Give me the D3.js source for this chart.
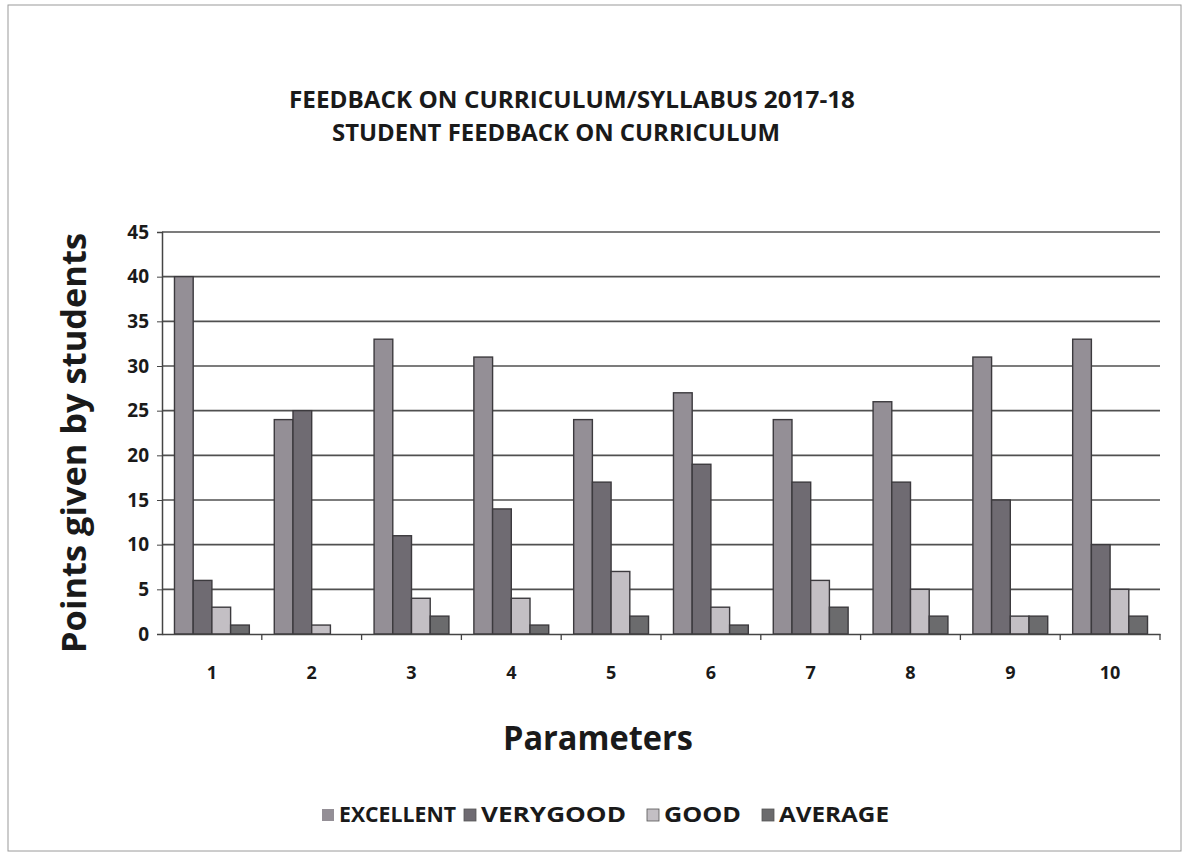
<!DOCTYPE html>
<html>
<head>
<meta charset="utf-8">
<script src="https://cdn.jsdelivr.net/npm/d3@7"></script>
<style>
  body { margin: 0; background: #fff; }
  text { font-family: 'Open Sans', 'Liberation Sans', sans-serif; fill: #1a1a1a; }
</style>
</head>
<body>
<div id="app"></div>
<script>
const width = 1185;
const height = 855;

const parameters = ['1', '2', '3', '4', '5', '6', '7', '8', '9', '10'];
const seriesNames = ['EXCELLENT', 'VERYGOOD', 'GOOD', 'AVERAGE'];
const excellent = [40, 24, 33, 31, 24, 27, 24, 26, 31, 33];
const veryGood = [6, 25, 11, 14, 17, 19, 17, 17, 15, 10];
const good = [3, 1, 4, 4, 7, 3, 6, 5, 2, 5];
const average = [1, 0, 2, 1, 2, 1, 3, 2, 2, 2];
const yTicks = [0, 5, 10, 15, 20, 25, 30, 35, 40, 45];
const colors = ['#948f96', '#6f6b72', '#c3bfc4', '#6b6b6d'];

const series = [excellent, veryGood, good, average];

const margin = {left: 162, right: 25, top: 232, bottom: 221};

const svg = d3.select('#app').append('svg')
  .attr('width', width)
  .attr('height', height);

// scan frame
svg.append('rect')
  .attr('x', 8).attr('y', 5)
  .attr('width', width - 12).attr('height', height - 9)
  .attr('fill', 'none')
  .attr('stroke', '#9a9a9a')
  .attr('stroke-width', 1);

const x = d3.scaleBand()
  .domain(parameters)
  .range([margin.left, width - margin.right])
  .paddingInner(0.25)
  .paddingOuter(0.125);

const xOuter = d3.scaleBand()
  .domain(parameters)
  .range([margin.left, width - margin.right]);

const xSub = d3.scaleBand()
  .domain(seriesNames)
  .range([0, x.bandwidth()]);

const y = d3.scaleLinear()
  .domain([0, 45])
  .range([height - margin.bottom, margin.top]);

// gridlines
svg.append('g')
  .selectAll('line')
  .data(yTicks.slice(1))
  .join('line')
  .attr('x1', margin.left)
  .attr('x2', width - margin.right)
  .attr('y1', (d)=>y(d))
  .attr('y2', (d)=>y(d))
  .attr('stroke', '#505050')
  .attr('stroke-width', 1.6);

// y axis
const yAxis = svg.append('g')
  .attr('transform', `translate(${margin.left},0)`)
  .call(d3.axisLeft(y).tickValues(yTicks).tickSize(5).tickPadding(8));
yAxis.select('.domain').attr('stroke', '#444').attr('stroke-width', 1.5);
yAxis.selectAll('.tick line').attr('stroke', '#444');
yAxis.selectAll('text')
  .style('font-size', '19px')
  .style('font-weight', '700')
  .attr('fill', '#1a1a1a');

// bars
const groups = svg.append('g')
  .selectAll('g')
  .data(parameters)
  .join('g')
  .attr('transform', (d)=>`translate(${x(d)},0)`);

groups.selectAll('rect')
  .data((d, i)=>seriesNames.map((name, j)=>({name, value: series[j][i], color: colors[j]})))
  .join('rect')
  .attr('x', (d)=>xSub(d.name))
  .attr('y', (d)=>y(d.value))
  .attr('width', xSub.bandwidth())
  .attr('height', (d)=>y(0) - y(d.value))
  .attr('fill', (d)=>d.color)
  .attr('stroke', (d)=>d.value > 0 ? '#3c3a3e' : 'none')
  .attr('stroke-width', 1.4);

// x axis
const xAxis = svg.append('g')
  .attr('transform', `translate(0,${y(0)})`)
  .call(d3.axisBottom(xOuter).tickSize(0).tickPadding(32));
xAxis.select('.domain').attr('stroke', '#444').attr('stroke-width', 1.5);
xAxis.selectAll('text')
  .style('font-size', '18px')
  .style('font-weight', '700')
  .attr('fill', '#1a1a1a');

svg.append('g')
  .selectAll('line')
  .data(parameters.slice(1).concat(['end']))
  .join('line')
  .attr('x1', (d)=>d === 'end' ? width - margin.right : xOuter(d))
  .attr('x2', (d)=>d === 'end' ? width - margin.right : xOuter(d))
  .attr('y1', y(0))
  .attr('y2', y(0) + 6)
  .attr('stroke', '#444')
  .attr('stroke-width', 1.3);

// titles
svg.append('text')
  .attr('x', 572).attr('y', 108)
  .attr('text-anchor', 'middle')
  .attr('textLength', 566)
  .attr('lengthAdjust', 'spacingAndGlyphs')
  .style('font-size', '23px')
  .style('font-weight', '700')
  .text('FEEDBACK ON CURRICULUM/SYLLABUS 2017-18');

svg.append('text')
  .attr('x', 556).attr('y', 141)
  .attr('text-anchor', 'middle')
  .attr('textLength', 448)
  .attr('lengthAdjust', 'spacingAndGlyphs')
  .style('font-size', '23px')
  .style('font-weight', '700')
  .text('STUDENT FEEDBACK ON CURRICULUM');

svg.append('text')
  .attr('transform', `translate(86,${(y(0) + y(45)) / 2 + 10}) rotate(-90)`)
  .attr('text-anchor', 'middle')
  .attr('textLength', 420)
  .attr('lengthAdjust', 'spacingAndGlyphs')
  .style('font-size', '34px')
  .style('font-weight', '700')
  .text('Points given by students');

svg.append('text')
  .attr('x', 598).attr('y', 750)
  .attr('text-anchor', 'middle')
  .attr('textLength', 190)
  .attr('lengthAdjust', 'spacingAndGlyphs')
  .style('font-size', '34px')
  .style('font-weight', '700')
  .text('Parameters');

// legend
const legendX = [322, 464, 647, 762];
const legendW = [117, 145, 77, 110];
const legend = svg.append('g')
  .selectAll('g')
  .data(seriesNames)
  .join('g')
  .attr('transform', (d, i)=>`translate(${legendX[i]},822)`);

legend.append('rect')
  .attr('x', 0).attr('y', -13)
  .attr('width', 12).attr('height', 12)
  .attr('fill', (d, i)=>colors[i])
  .attr('stroke', (d, i)=>i === 0 ? 'none' : '#555')
  .attr('stroke-width', 0.8);

legend.append('text')
  .attr('x', 17).attr('y', 0)
  .attr('textLength', (d, i)=>legendW[i])
  .attr('lengthAdjust', 'spacingAndGlyphs')
  .style('font-size', '21px')
  .style('font-weight', '700')
  .text((d)=>d);
</script>
</body>
</html>
